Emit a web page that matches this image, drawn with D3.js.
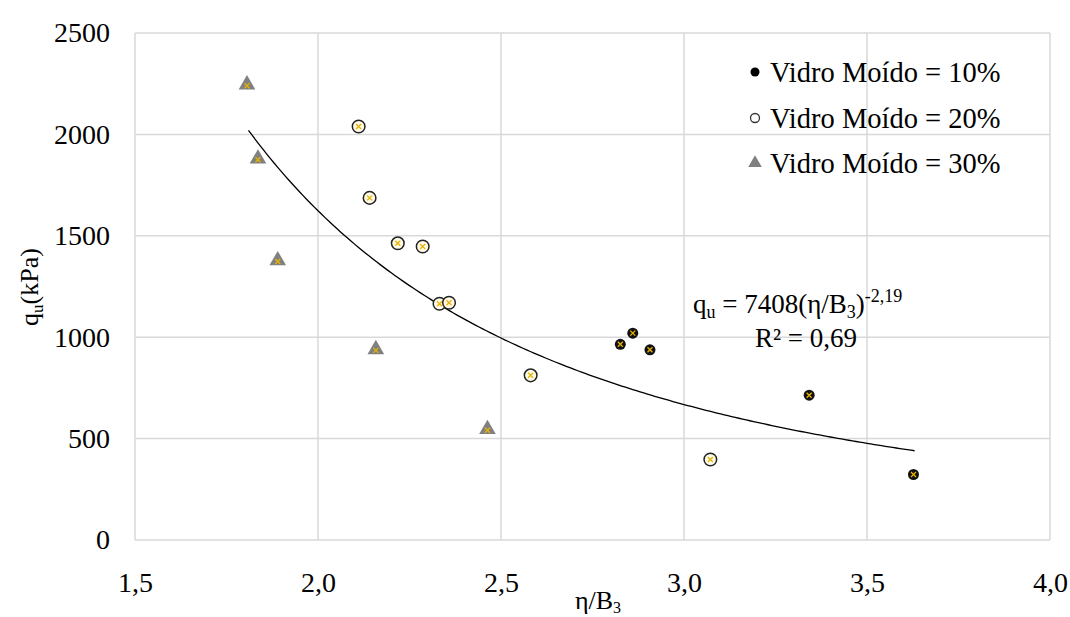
<!DOCTYPE html>
<html><head><meta charset="utf-8">
<script src="https://cdn.jsdelivr.net/npm/d3@7"></script>
<style>body{margin:0;background:#fff}svg{display:block}text{font-family:"Liberation Serif","Times New Roman",serif;fill:#000}</style>
</head><body><svg id="c" width="1070" height="617"></svg>
<script>
const xTicks = [1.5, 2.0, 2.5, 3.0, 3.5, 4.0];
const yTicks = [0, 500, 1000, 1500, 2000, 2500];
const seriesNames = ["Vidro Moído = 10%", "Vidro Moído = 20%", "Vidro Moído = 30%"];
const x10 = [2.826, 2.860, 2.907, 3.342, 3.627];
const y10 = [965, 1020, 938, 714, 323];
const x20 = [2.111, 2.141, 2.218, 2.286, 2.332, 2.358, 2.581, 3.072];
const y20 = [2039, 1687, 1463, 1447, 1165, 1170, 812, 397];
const x30 = [1.806, 1.836, 1.890, 2.158, 2.463];
const y30 = [2240, 1875, 1373, 935, 541];
const fitA = 7408, fitB = -2.19, fitRange = [1.81, 3.63];

const svg = d3.select("#c");
const L = 135, R = 1050, T = 33, B = 540;
const x = d3.scaleLinear().domain([1.5, 4.0]).range([L, R]);
const y = d3.scaleLinear().domain([0, 2500]).range([B, T]);
const grid = "#d9d9d9";

// gridlines
svg.append("g").selectAll("line").data(xTicks).join("line")
  .attr("x1", d => x(d)).attr("x2", d => x(d)).attr("y1", T).attr("y2", B)
  .attr("stroke", grid).attr("stroke-width", 1.5);
svg.append("g").selectAll("line").data(yTicks).join("line")
  .attr("y1", d => y(d)).attr("y2", d => y(d)).attr("x1", L).attr("x2", R)
  .attr("stroke", grid).attr("stroke-width", 1.5);

// axes labels via d3 axes
const fmt = d => d.toFixed(1).replace(".", ",");
const ax = svg.append("g").attr("transform", `translate(0,${B})`)
  .call(d3.axisBottom(x).tickValues(xTicks).tickFormat(fmt).tickSize(0).tickPadding(32));
ax.select(".domain").remove();
ax.selectAll("text").attr("font-size", 28).attr("fill", "#000");
const ay = svg.append("g").attr("transform", `translate(${L},0)`)
  .call(d3.axisLeft(y).tickValues(yTicks).tickFormat(d3.format("d")).tickSize(0).tickPadding(25));
ay.select(".domain").remove();
ay.selectAll("text").attr("font-size", 28).attr("fill", "#000");

// axis titles
const xt = svg.append("text").attr("x", 598).attr("y", 609).attr("text-anchor", "middle").attr("font-size", 26);
xt.append("tspan").text("η/B");
xt.append("tspan").attr("font-size", 16).attr("dy", 4).text("3");
const yt = svg.append("text").attr("transform", "translate(38,287) rotate(-90)").attr("text-anchor", "middle").attr("font-size", 26);
yt.append("tspan").text("q");
yt.append("tspan").attr("font-size", 17).attr("dy", 5).text("u");
yt.append("tspan").attr("dy", -5).text("(kPa)");

// trend line
const fitX = d3.range(fitRange[0], fitRange[1] + 1e-9, 0.01);
svg.append("path").datum(fitX)
  .attr("d", d3.line().x(d => x(d)).y(d => y(fitA * Math.pow(d, fitB))))
  .attr("fill", "none").attr("stroke", "#000").attr("stroke-width", 1.3);

const yel = "#e8b400";
function xmark(g, s) {
  g.append("path").attr("d", `M${-s},${-s}L${s},${s}M${-s},${s}L${s},${-s}`)
    .attr("stroke", yel).attr("stroke-width", 1.3);
}
// 30% triangles
const tri = d3.symbol().type(d3.symbolTriangle).size(120);
svg.append("g").selectAll("g").data(x30.map((v, i) => [v, y30[i]])).join("g")
  .attr("transform", d => `translate(${x(d[0])},${y(d[1])})`)
  .each(function () {
    const g = d3.select(this);
    g.append("path").attr("d", tri).attr("transform", "translate(0,-1)").attr("fill", "#808080");
    xmark(g, 2.5);
  });
// 20% circles
svg.append("g").selectAll("g").data(x20.map((v, i) => [v, y20[i]])).join("g")
  .attr("transform", d => `translate(${x(d[0])},${y(d[1])})`)
  .each(function () {
    const g = d3.select(this);
    g.append("circle").attr("r", 6.3).attr("fill", "#fffbe8").attr("stroke", "#222").attr("stroke-width", 1.5);
    xmark(g, 2.5);
  });
// 10% black dots
svg.append("g").selectAll("g").data(x10.map((v, i) => [v, y10[i]])).join("g")
  .attr("transform", d => `translate(${x(d[0])},${y(d[1])})`)
  .each(function () {
    const g = d3.select(this);
    g.append("circle").attr("r", 5.5).attr("fill", "#111");
    xmark(g, 2.5);
  });

// equation
const eq = svg.append("text").attr("x", 693).attr("y", 313).attr("font-size", 27);
eq.append("tspan").text("q");
eq.append("tspan").attr("font-size", 18).attr("dy", 5).text("u");
eq.append("tspan").attr("dy", -5).text(" = 7408(η/B");
eq.append("tspan").attr("font-size", 18).attr("dy", 5).text("3");
eq.append("tspan").attr("dy", -5).text(")");
eq.append("tspan").attr("font-size", 18).attr("dy", -11).text("-2,19");
svg.append("text").attr("x", 806).attr("y", 347).attr("text-anchor", "middle").attr("font-size", 27).text("R² = 0,69");

// legend
const lg = svg.append("g");
const rows = [72, 118, 163];
seriesNames.forEach((n, i) => {
  const g = lg.append("g").attr("transform", `translate(755,${rows[i]})`);
  if (i === 0) g.append("circle").attr("r", 4.5).attr("fill", "#000");
  if (i === 1) g.append("circle").attr("r", 4.5).attr("fill", "#fff").attr("stroke", "#333").attr("stroke-width", 1.3);
  if (i === 2) g.append("path").attr("d", d3.symbol().type(d3.symbolTriangle).size(80)).attr("fill", "#808080");
  g.append("text").attr("x", 15).attr("y", 10).attr("font-size", 28.5).text(n);
});
</script></body></html>
